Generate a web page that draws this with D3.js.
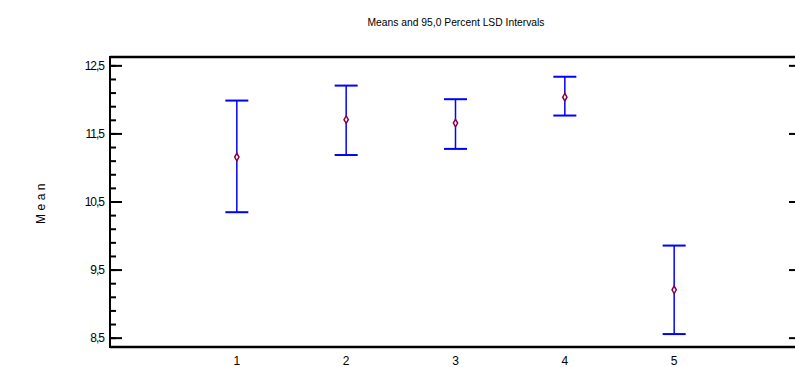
<!DOCTYPE html>
<html>
<head>
<meta charset="UTF-8">
<title>Means and LSD Intervals</title>
<script src="https://cdn.jsdelivr.net/npm/d3@7"></script>
<style>
  body { margin: 0; background: #fff; }
  text { font-family: "Liberation Sans Narrow", "Liberation Sans", Arial, sans-serif; fill: #000; }
</style>
</head>
<body>
<svg width="795" height="367"></svg>
<script>
  // data
  const groups = [1, 2, 3, 4, 5];
  const means = [11.16, 11.71, 11.66, 12.04, 9.21];
  const lower = [10.35, 11.19, 11.28, 11.77, 8.56];
  const upper = [11.99, 12.21, 12.01, 12.34, 9.86];
  const yTicks = [8.5, 9.5, 10.5, 11.5, 12.5];
  const yTickLabels = ['8,5', '9,5', '10,5', '11,5', '12,5'];

  const svg = d3.select('svg');
  const plotL = 110, plotR = 801, plotT = 57, plotB = 347;

  const x = d3.scaleLinear().domain([-0.16, 6.16]).range([plotL, plotR]);
  const y = d3.scaleLinear().domain([8.37, 12.63]).range([plotB, plotT]);

  // title
  svg.append('text')
    .attr('x', 456).attr('y', 26)
    .attr('text-anchor', 'middle')
    .attr('font-size', 11)
    .attr('textLength', 177).attr('lengthAdjust', 'spacingAndGlyphs')
    .text('Means and 95,0 Percent LSD Intervals');

  // y label
  svg.append('text')
    .attr('transform', 'translate(45,' + ((plotT + plotB) / 2) + ') rotate(-90)')
    .attr('text-anchor', 'middle')
    .attr('font-size', 12)
    .attr('letter-spacing', 3.5)
    .style('font-family', 'Liberation Sans, Arial, sans-serif')
    .text('Mean');

  // minor ticks every 0.2
  const minor = d3.range(8.5, 12.6, 0.2).map(v => +v.toFixed(1));

  const gl = svg.append('g');
  gl.selectAll('line.minor').data(minor).join('line')
    .attr('class', 'minor')
    .attr('x1', plotL).attr('x2', plotL + 6)
    .attr('y1', d => y(d)).attr('y2', d => y(d))
    .attr('stroke', '#000').attr('stroke-width', 2);
  gl.selectAll('line.major').data(yTicks).join('line')
    .attr('class', 'major')
    .attr('x1', plotL).attr('x2', plotL + 12)
    .attr('y1', d => y(d)).attr('y2', d => y(d))
    .attr('stroke', '#000').attr('stroke-width', 2);
  gl.selectAll('text').data(yTicks).join('text')
    .attr('x', plotL - 6).attr('y', d => y(d) + 4)
    .attr('text-anchor', 'end')
    .attr('font-size', 12)
    .attr('letter-spacing', -1)
    .text((d, i) => yTickLabels[i]);

  // right side ticks
  const gr = svg.append('g');
  gr.selectAll('line.minor').data(minor).join('line')
    .attr('class', 'minor')
    .attr('x1', plotR).attr('x2', plotR - 6)
    .attr('y1', d => y(d)).attr('y2', d => y(d))
    .attr('stroke', '#000').attr('stroke-width', 2);
  gr.selectAll('line.major').data(yTicks).join('line')
    .attr('class', 'major')
    .attr('x1', plotR).attr('x2', plotR - 12)
    .attr('y1', d => y(d)).attr('y2', d => y(d))
    .attr('stroke', '#000').attr('stroke-width', 2);

  // frame
  svg.append('line').attr('x1', plotL).attr('x2', plotR).attr('y1', plotT).attr('y2', plotT)
    .attr('stroke', '#000').attr('stroke-width', 2.5);
  svg.append('line').attr('x1', plotL).attr('x2', plotR).attr('y1', plotB).attr('y2', plotB)
    .attr('stroke', '#000').attr('stroke-width', 2.5);
  svg.append('line').attr('x1', plotL).attr('x2', plotL).attr('y1', plotT - 1).attr('y2', plotB + 1)
    .attr('stroke', '#000').attr('stroke-width', 2);

  // x labels
  svg.append('g').selectAll('text').data(groups).join('text')
    .attr('x', d => x(d)).attr('y', 365)
    .attr('text-anchor', 'middle')
    .attr('font-size', 12)
    .text(d => d);

  // intervals
  const g = svg.append('g');
  const cap = 11.5;
  groups.forEach((grp, i) => {
    const cx = x(grp);
    g.append('line').attr('x1', cx).attr('x2', cx)
      .attr('y1', y(upper[i])).attr('y2', y(lower[i]))
      .attr('stroke', '#0000ff').attr('stroke-width', 1.5);
    [upper[i], lower[i]].forEach(v => {
      g.append('line').attr('x1', cx - cap).attr('x2', cx + cap)
        .attr('y1', y(v)).attr('y2', y(v))
        .attr('stroke', '#0000ff').attr('stroke-width', 2);
    });
    g.append('path')
      .attr('d', d3.symbol().type(d3.symbolDiamond).size(16)())
      .attr('transform', 'translate(' + cx + ',' + y(means[i]) + ')')
      .attr('fill', '#fff')
      .attr('stroke', '#880044').attr('stroke-width', 1.5);
  });
</script>
</body>
</html>
